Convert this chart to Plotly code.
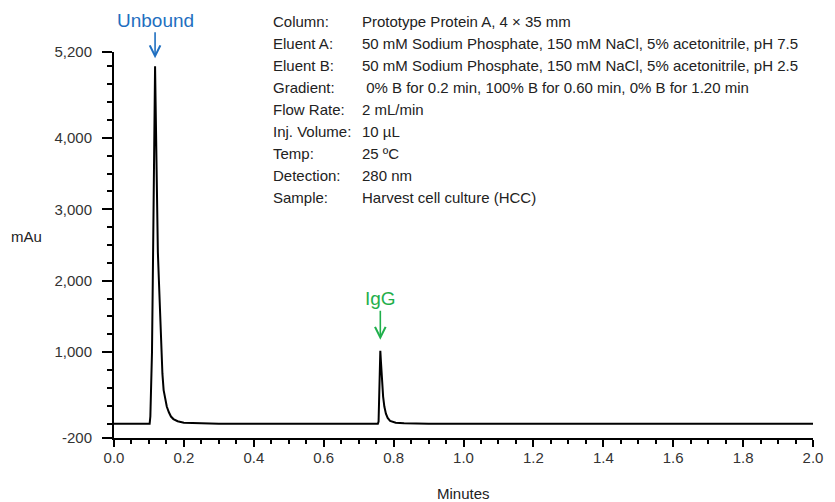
import plotly.graph_objects as go

# ---- data ----
time_min = [0.000, 0.098, 0.102, 0.104, 0.106, 0.108, 0.1087, 0.111, 0.1135, 0.116, 0.1175,
            0.119, 0.1205, 0.1228, 0.1255, 0.1285, 0.131, 0.135, 0.1385, 0.142, 0.146,
            0.151, 0.157, 0.163, 0.170, 0.182, 0.200, 0.250, 0.300,
            0.750, 0.755, 0.757, 0.759, 0.761, 0.762, 0.764, 0.767, 0.770,
            0.7735, 0.778, 0.783, 0.790, 0.806, 0.830, 0.900, 2.000]
absorbance_mau = [0, 0, 0, 100, 400, 800, 1000, 2000, 3000, 4400, 5000,
                  4500, 3800, 3000, 2400, 2000, 1600, 1000, 700, 470, 340,
                  240, 160, 100, 65, 35, 15, 4, 0,
                  0, 0, 30, 400, 900, 1020, 850, 600, 380,
                  240, 140, 80, 40, 14, 5, 0, 0]

peak_names = ["Unbound", "IgG"]
peak_times = [0.1175, 0.762]
peak_heights = [5000, 1020]
peak_colors = ["#1F6FC0", "#1FAF4B"]

x_tick_vals = [0.0, 0.2, 0.4, 0.6, 0.8, 1.0, 1.2, 1.4, 1.6, 1.8, 2.0]
x_tick_text = ["0.0", "0.2", "0.4", "0.6", "0.8", "1.0", "1.2", "1.4", "1.6", "1.8", "2.0"]
x_minor_vals = [0.05, 0.10, 0.15, 0.25, 0.30, 0.35, 0.45, 0.50, 0.55, 0.65, 0.70, 0.75,
                0.85, 0.90, 0.95, 1.05, 1.10, 1.15, 1.25, 1.30, 1.35, 1.45, 1.50, 1.55,
                1.65, 1.70, 1.75, 1.85, 1.90, 1.95]
y_tick_vals = [-200, 1000, 2000, 3000, 4000, 5200]
y_tick_text = ["-200", "1,000", "2,000", "3,000", "4,000", "5,200"]
y_minor_vals = [0, 250, 500, 750, 1250, 1500, 1750, 2250, 2500, 2750, 3250, 3500, 3750,
                4250, 4500, 4750, 5000]

cond_labels = ["Column:", "Eluent A:", "Eluent B:", "Gradient:", "Flow Rate:",
               "Inj. Volume:", "Temp:", "Detection:", "Sample:"]
cond_values = ["Prototype Protein A, 4 × 35 mm",
               "50 mM Sodium Phosphate, 150 mM NaCl, 5% acetonitrile, pH 7.5",
               "50 mM Sodium Phosphate, 150 mM NaCl, 5% acetonitrile, pH 2.5",
               "\u00a00% B for 0.2 min, 100% B for 0.60 min, 0% B for 1.20 min",
               "2 mL/min",
               "10 µL",
               "25 ºC",
               "280 nm",
               "Harvest cell culture (HCC)"]

x_title = "Minutes"
y_title = "mAu"

# ---- layout geometry ----
W, H = 835, 502
ML, MR, MT, MB = 114, 16, 52, 64
PW, PH = W - ML - MR, H - MT - MB


def xp(px):
    return (px - ML) / PW


def yp(py):
    return (H - MB - py) / PH


FONT = "Arial, Liberation Sans, sans-serif"

fig = go.Figure()
fig.add_trace(go.Scatter(x=time_min, y=absorbance_mau, mode="lines",
                         line=dict(color="black", width=2), hoverinfo="skip",
                         showlegend=False))

annotations = []
# peak labels with arrows
label_offsets = [-46, -52]
arrow_standoffs = [8, 11]
for name, t, h, c, ay, so in zip(peak_names, peak_times, peak_heights, peak_colors,
                                 label_offsets, arrow_standoffs):
    annotations.append(dict(x=t, y=h, xref="x", yref="y", text=name, showarrow=True,
                            ax=0, ay=ay, arrowhead=5, arrowsize=1.3, arrowwidth=1.6,
                            arrowcolor=c, standoff=so,
                            font=dict(family=FONT, size=19, color=c)))

# conditions block
row_y0, row_dy = 22, 21.9
for i, (lab, val) in enumerate(zip(cond_labels, cond_values)):
    y = yp(row_y0 + i * row_dy)
    annotations.append(dict(x=xp(272), y=y, xref="paper", yref="paper", text=lab,
                            showarrow=False, xanchor="left", yanchor="middle",
                            font=dict(family=FONT, size=15, color="#222222")))
    annotations.append(dict(x=xp(362), y=y, xref="paper", yref="paper", text=val,
                            showarrow=False, xanchor="left", yanchor="middle",
                            font=dict(family=FONT, size=15, color="#222222")))

# axis titles
annotations.append(dict(x=xp(467), y=yp(493), xref="paper", yref="paper", text=x_title,
                        showarrow=False, xanchor="center", yanchor="middle",
                        font=dict(family=FONT, size=15, color="#222222")))
annotations.append(dict(x=xp(26), y=yp(236), xref="paper", yref="paper", text=y_title,
                        showarrow=False, xanchor="center", yanchor="middle",
                        font=dict(family=FONT, size=15, color="#222222")))

fig.update_layout(
    width=W, height=H,
    margin=dict(l=ML, r=MR, t=MT, b=MB, pad=0),
    paper_bgcolor="white", plot_bgcolor="white",
    font=dict(family=FONT, size=15, color="#333333"),
    annotations=annotations,
    xaxis=dict(range=[0, 2.0], showgrid=False, zeroline=False, showline=True,
               linecolor="black", linewidth=2, ticks="outside", ticklen=7, tickwidth=1.5,
               tickcolor="black", tickmode="array", tickvals=x_tick_vals,
               ticktext=x_tick_text, tickfont=dict(size=15, color="#333333"),
               ticklabelstandoff=-2,
               minor=dict(tickmode="array", tickvals=x_minor_vals, ticks="outside",
                          ticklen=4, tickwidth=1.5, tickcolor="black", showgrid=False)),
    yaxis=dict(range=[-200, 5200], showgrid=False, zeroline=False, showline=True,
               linecolor="black", linewidth=2, ticks="outside", ticklen=10, tickwidth=1.5,
               tickcolor="black", tickmode="array", tickvals=y_tick_vals,
               ticktext=y_tick_text, tickfont=dict(size=15, color="#333333"),
               ticklabelstandoff=7,
               minor=dict(tickmode="array", tickvals=y_minor_vals, ticks="outside",
                          ticklen=5, tickwidth=1.5, tickcolor="black", showgrid=False)),
)

fig.write_html("out.html")
